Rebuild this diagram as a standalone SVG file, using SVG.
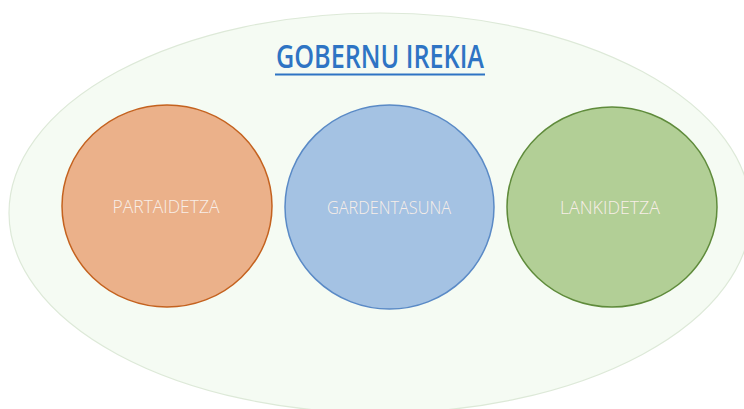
<svg xmlns="http://www.w3.org/2000/svg" width="744" height="409" viewBox="0 0 744 409">
<style>
.lbl{font-family:"Open Sans","Liberation Sans",sans-serif;font-size:18px;font-weight:300;fill:#F8EEE8;text-anchor:middle}
</style>
<rect width="744" height="409" fill="#ffffff"/>
<g id="outer">
<ellipse cx="380" cy="213" rx="371" ry="200" fill="#F5FBF3" stroke="#DDE9D8" stroke-width="1.2"/>
</g>
<g id="title">
<text x="380" y="68" font-family="Open Sans, Liberation Sans, sans-serif" font-size="32" font-weight="600" fill="#2E74C4" text-anchor="middle" textLength="208" lengthAdjust="spacingAndGlyphs">GOBERNU IREKIA</text>
<line x1="275" y1="74.5" x2="485" y2="74.5" stroke="#2E74C4" stroke-width="1.8"/>
</g>
<g id="partaidetza">
<ellipse cx="167" cy="206" rx="105" ry="101" fill="#EBB18A" stroke="#C4621F" stroke-width="1.5"/>
<text class="lbl" x="166" y="213" textLength="107" lengthAdjust="spacingAndGlyphs">PARTAIDETZA</text>
</g>
<g id="gardentasuna">
<ellipse cx="389.5" cy="207" rx="104.5" ry="102" fill="#A4C2E3" stroke="#5A8AC6" stroke-width="1.5"/>
<text class="lbl" x="389" y="214" textLength="124" lengthAdjust="spacingAndGlyphs">GARDENTASUNA</text>
</g>
<g id="lankidetza">
<ellipse cx="612" cy="207" rx="105" ry="100" fill="#B2CF96" stroke="#5F8B3B" stroke-width="1.5"/>
<text class="lbl" x="610" y="214" textLength="100" lengthAdjust="spacingAndGlyphs">LANKIDETZA</text>
</g>
<g id="connectors"/>
</svg>
